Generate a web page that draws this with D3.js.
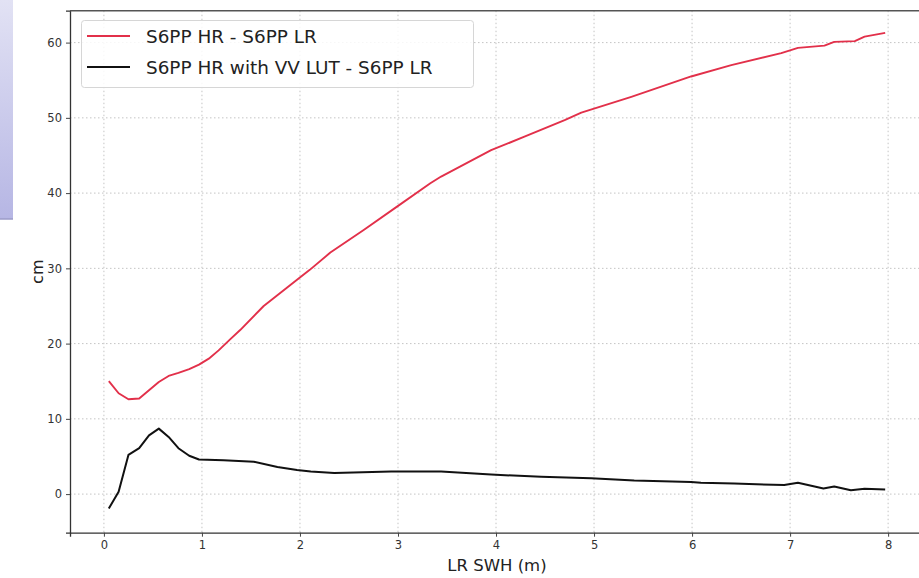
<!DOCTYPE html>
<html>
<head>
<meta charset="utf-8">
<script src="https://cdn.jsdelivr.net/npm/d3@7"></script>
<style>
  html, body { margin: 0; padding: 0; background: #fff; }
  svg { display: block; font-family: "DejaVu Sans", sans-serif; }
</style>
</head>
<body>
<svg class="chart" width="919" height="578"></svg>
<script>
(function () {
    'use strict';

    /* Data */

    var swhRed = [0.05, 0.15, 0.25, 0.36, 0.46, 0.56, 0.66, 0.76, 0.87, 0.97, 1.07, 1.17, 1.29, 1.39,
                  1.63, 1.97, 2.1, 2.31, 2.65, 2.99, 3.33, 3.44, 3.95, 4.29, 4.7, 4.87, 5.38, 5.99, 6.4,
                  6.91, 7.08, 7.35, 7.45, 7.66, 7.76, 7.97];
    var hrMinusLr = [15.0, 13.4, 12.6, 12.7, 13.8, 14.9, 15.7, 16.1, 16.6, 17.2, 18.0, 19.1, 20.6, 21.8,
                     25.0, 28.5, 29.8, 32.1, 35.1, 38.2, 41.3, 42.2, 45.7, 47.5, 49.7, 50.7, 52.8, 55.5, 57.0,
                     58.6, 59.3, 59.6, 60.1, 60.2, 60.8, 61.3];

    var swhBlack = [0.05, 0.15, 0.25, 0.36, 0.46, 0.56, 0.66, 0.76, 0.87, 0.97, 1.22, 1.53, 1.77, 1.97,
                    2.11, 2.35, 2.93, 3.44, 3.95, 4.46, 4.97, 5.41, 5.99, 6.09, 6.43, 6.94, 7.08, 7.25,
                    7.34, 7.45, 7.62, 7.76, 7.97];
    var hrLutMinusLr = [-1.9, 0.3, 5.2, 6.1, 7.8, 8.7, 7.6, 6.1, 5.1, 4.6, 4.5, 4.3, 3.6, 3.2,
                        3.0, 2.8, 3.0, 3.0, 2.6, 2.3, 2.1, 1.8, 1.6, 1.5, 1.4, 1.2, 1.5, 1.0,
                        0.75, 1.0, 0.5, 0.7, 0.6];

    var xTicks = [0, 1, 2, 3, 4, 5, 6, 7, 8];
    var yTicks = [0, 10, 20, 30, 40, 50, 60];
    var seriesNames = ['S6PP HR - S6PP LR', 'S6PP HR with VV LUT - S6PP LR'];
    var seriesColors = ['#e2304a', '#111111'];

    /* Setup SVG */

    var svg = d3.select('.chart');

    var left = 70, right = 924, top = 10.7, bottom = 532.7;

    var x = d3.scaleLinear().domain([-0.346, 8.366]).range([left, right]);
    var y = d3.scaleLinear().domain([-5.13, 64.24]).range([bottom, top]);

    /* Slide leftover panel */

    var grad = svg.append('defs').append('linearGradient')
        .attr('id', 'panel').attr('x1', 0).attr('y1', 0).attr('x2', 0).attr('y2', 1);
    grad.append('stop').attr('offset', '0%').attr('stop-color', '#e2e2f4');
    grad.append('stop').attr('offset', '100%').attr('stop-color', '#b6b6e4');

    svg.append('rect').attr('x', 0).attr('y', 0).attr('width', 13).attr('height', 219)
        .attr('fill', 'url(#panel)');
    svg.append('line').attr('x1', 0).attr('x2', 13).attr('y1', 219).attr('y2', 219)
        .attr('stroke', '#9b9bc8').attr('stroke-width', 1.5);

    /* Grid */

    var grid = svg.append('g').attr('stroke', '#c4c4c4').attr('stroke-width', 1)
        .attr('stroke-dasharray', '1.5,2.5');

    grid.selectAll('.gx').data(xTicks).enter().append('line')
        .attr('x1', function (d) { return x(d); }).attr('x2', function (d) { return x(d); })
        .attr('y1', top).attr('y2', bottom);

    grid.selectAll('.gy').data(yTicks).enter().append('line')
        .attr('x1', left).attr('x2', right)
        .attr('y1', function (d) { return y(d); }).attr('y2', function (d) { return y(d); });

    /* Lines */

    var line = d3.line()
        .x(function (d) { return x(d[0]); })
        .y(function (d) { return y(d[1]); });

    svg.append('path')
        .datum(d3.zip(swhRed, hrMinusLr))
        .attr('fill', 'none').attr('stroke', seriesColors[0]).attr('stroke-width', 1.9)
        .attr('stroke-linejoin', 'round').attr('d', line);

    svg.append('path')
        .datum(d3.zip(swhBlack, hrLutMinusLr))
        .attr('fill', 'none').attr('stroke', seriesColors[1]).attr('stroke-width', 2)
        .attr('stroke-linejoin', 'round').attr('d', line);

    /* Axes */

    var xAxis = svg.append('g')
        .attr('transform', 'translate(0,' + bottom + ')')
        .call(d3.axisBottom(x).tickValues(xTicks).tickSize(4).tickPadding(4));

    var yAxis = svg.append('g')
        .attr('transform', 'translate(' + left + ',0)')
        .call(d3.axisLeft(y).tickValues(yTicks).tickSize(4).tickPadding(4));

    [xAxis, yAxis].forEach(function (a) {
        a.select('.domain').attr('stroke', '#333').attr('stroke-width', 1.3);
        a.selectAll('.tick line').attr('stroke', '#444');
        a.selectAll('.tick text').attr('fill', '#333')
            .style('font-size', '11.5px').style('font-family', '"DejaVu Sans", sans-serif');
    });

    svg.append('line').attr('x1', left).attr('x2', 919).attr('y1', top).attr('y2', top)
        .attr('stroke', '#555').attr('stroke-width', 1.6);

    svg.append('text')
        .attr('x', (left + right) / 2).attr('y', 571)
        .attr('text-anchor', 'middle').attr('fill', '#222')
        .style('font-size', '16.5px')
        .text('LR SWH (m)');

    svg.append('text')
        .attr('transform', 'translate(43,' + ((top + bottom) / 2) + ') rotate(-90)')
        .attr('text-anchor', 'middle').attr('fill', '#222')
        .style('font-size', '16px')
        .text('cm');

    /* Legend */

    var legend = svg.append('g');

    legend.append('rect')
        .attr('x', 81.5).attr('y', 20.5).attr('width', 392).attr('height', 67)
        .attr('rx', 3).attr('fill', 'rgba(255,255,255,0.85)')
        .attr('stroke', '#d6d6d6').attr('stroke-width', 1);

    var items = legend.selectAll('.item').data(seriesNames).enter().append('g')
        .attr('transform', function (d, i) { return 'translate(0,' + (36 + i * 31) + ')'; });

    items.append('line')
        .attr('x1', 87).attr('x2', 130).attr('y1', 0).attr('y2', 0)
        .attr('stroke', function (d, i) { return seriesColors[i]; })
        .attr('stroke-width', 2);

    items.append('text')
        .attr('x', 146).attr('y', 0).attr('dy', '0.36em')
        .attr('fill', '#222').style('font-size', '18.4px')
        .text(function (d) { return d; });

})();
</script>
</body>
</html>
